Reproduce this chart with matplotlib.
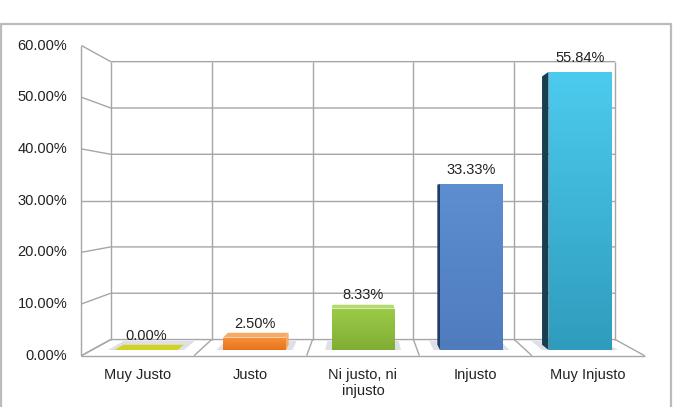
import matplotlib.pyplot as plt
import numpy as np
from matplotlib.patches import Polygon

categories = ["Muy Justo", "Justo", "Ni justo, ni\ninjusto", "Injusto", "Muy Injusto"]
values = [0.00, 2.50, 8.33, 33.33, 55.84]
value_labels = ["0.00%", "2.50%", "8.33%", "33.33%", "55.84%"]
y_ticks = [0, 10, 20, 30, 40, 50, 60]

# front colour (top of gradient), bottom of gradient, side / top face
COLORS = [
    ("#d2d224", "#bfbf10", "#e0e050"),
    ("#f8913a", "#e8731c", "#f7aa66"),
    ("#9ccb48", "#7fae34", "#b4da72"),
    ("#5d8ed0", "#4f7cbd", "#1e3c66"),
    ("#4ccbee", "#2f9cbd", "#163f52"),
]

# perspective: everything shrinks toward (2, 30) with depth
CX, CY = 2.0, 30.0
S_FRONT = 1.038
S_BACK = 0.93
S_BAR_BACK = 0.965
BAR_W = 0.58
GRID = "#a6a6a6"


def proj(x, v, s):
    return CX + (x - CX) * s, CY + (v - CY) * s


def line(ax, pts, **kw):
    xs, ys = zip(*pts)
    ax.plot(xs, ys, color=GRID, lw=1.0, solid_capstyle="butt", zorder=1, **kw)


def chart() -> None:
    fig = plt.figure(figsize=(6.74, 4.07), dpi=100)
    ax = fig.add_axes([0, 0, 1, 1])
    ax.set_xlim(-146 / 108.5, (674 - 146) / 108.5)
    ax.set_ylim((350 - 407) / 4.98, 350 / 4.98)
    ax.axis("off")

    plt.rcParams["font.family"] = ["Liberation Sans", "DejaVu Sans"]

    left, right = -0.5, len(categories) - 0.5
    edges = np.arange(left, right + 1)

    # walls and grid
    for v in y_ticks:
        line(ax, [proj(left, v, S_FRONT), proj(left, v, S_BACK), proj(right, v, S_BACK)])
        fx, fy = proj(left, v, S_FRONT)
        ax.text(fx - 0.13, fy, f"{v:.2f}%", ha="right", va="center", fontsize=10.5, color="#222222")
    for e in edges:
        line(ax, [proj(e, 0, S_BACK), proj(e, y_ticks[-1], S_BACK)])
        line(ax, [proj(e, 0, S_BACK), proj(e, 0, S_FRONT)])
    line(ax, [proj(left, 0, S_FRONT), proj(left, y_ticks[-1], S_FRONT)])
    line(ax, [proj(left, 0, S_FRONT), proj(right, 0, S_FRONT)])

    x = np.arange(len(categories))

    # soft floor shadows
    for xi in x:
        xl, xr = xi - BAR_W / 2 - 0.06, xi + BAR_W / 2 + 0.06
        pts = [proj(xl, 0, 1.0), proj(xr, 0, 1.0), proj(xr, 0, S_BACK + 0.01), proj(xl, 0, S_BACK + 0.01)]
        ax.add_patch(Polygon(pts, closed=True, facecolor="#dde1e6", edgecolor="none", zorder=2))

    bars = ax.bar(x, values, width=BAR_W, bottom=0, color=[c[0] for c in COLORS], zorder=4, linewidth=0)

    for xi, v, bar, (top_c, bot_c, face_c) in zip(x, values, bars, COLORS):
        xl, xr = xi - BAR_W / 2, xi + BAR_W / 2
        # gradient on front face
        if v > 0:
            grad = np.linspace(0, 1, 64)[:, None]
            cmap = plt.matplotlib.colors.LinearSegmentedColormap.from_list("g", [top_c, bot_c])
            img = ax.imshow(grad, cmap=cmap, aspect="auto", origin="upper", extent=(xl, xr, 0, v),
                            zorder=4.5, interpolation="bilinear")
            img.set_clip_path(bar)
        # side face
        if xi > CX and v > 0:
            pts = [proj(xl, 0, 1), proj(xl, v, 1), proj(xl, v, S_BAR_BACK), proj(xl, 0, S_BAR_BACK)]
            ax.add_patch(Polygon(pts, closed=True, facecolor=face_c, edgecolor="none", zorder=3.5))
        elif xi < CX and v > 0:
            pts = [proj(xr, 0, 1), proj(xr, v, 1), proj(xr, v, S_BAR_BACK), proj(xr, 0, S_BAR_BACK)]
            ax.add_patch(Polygon(pts, closed=True, facecolor=face_c, edgecolor="none", zorder=3.5))
        # top face
        if v < CY:
            pts = [proj(xl, v, 1), proj(xr, v, 1), proj(xr, v, S_BAR_BACK), proj(xl, v, S_BAR_BACK)]
            fc = top_c if v == 0 else face_c
            ax.add_patch(Polygon(pts, closed=True, facecolor=fc, edgecolor="none", zorder=3.5))

    for xi, v, lab in zip(x, values, value_labels):
        ax.annotate(lab, xy=(xi, v), xytext=(0, 10), textcoords="offset points",
                    ha="center", va="center", fontsize=10.5, color="#222222", zorder=6)

    for xi, cat in zip(x, categories):
        fx, _ = proj(xi, 0, S_FRONT)
        ax.text(fx, (350 - 368) / 4.98, cat, ha="center", va="top", fontsize=10.5,
                color="#222222", linespacing=1.15)

    # outer chart frame (left, top, right)
    top = 1 - 24 / 407
    fig.add_artist(plt.Line2D([0.001, 0.001, 0.9955, 0.9955], [0, top, top, 0],
                              transform=fig.transFigure, color="#bcbcbc", lw=1.6))

    fig.savefig("out.png", dpi=100)


if __name__ == "__main__":

    chart()
